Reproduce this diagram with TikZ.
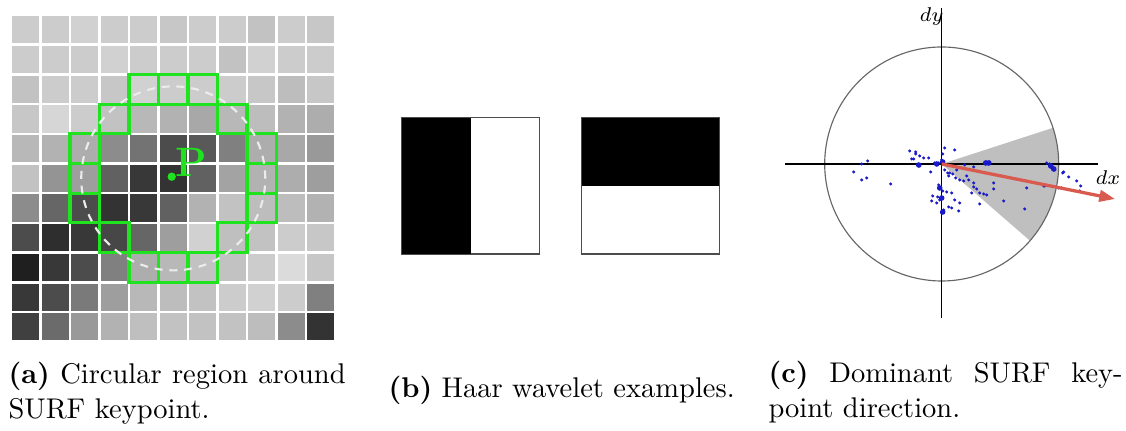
\documentclass[tikz,border=0pt]{standalone}
\usepackage{xcolor}
\usepackage{tikz}
\usetikzlibrary{arrows.meta}
\definecolor{keygreen}{HTML}{1EE31E}
\definecolor{dotblue}{HTML}{1A1AC8}
\definecolor{dirred}{HTML}{D95A4E}
\definecolor{ringgray}{HTML}{ECECEC}

\begin{document}
\begin{tikzpicture}[x=0.351pt, y=0.351pt,
    keycell/.style={draw=keygreen, line width=1.1pt},
    haarbox/.style={draw=black!70, line width=0.5pt},
    surfdot/.style={fill=dotblue},
    axislabel/.style={inner sep=0pt, font=\fontsize{7pt}{8pt}\selectfont},
    subcap/.style={inner sep=0pt, anchor=base west, align=justify}]
  \useasboundingbox (0,0) rectangle (1126,-431);

  % (a) pixel grid
  \foreach \row [count=\r from 0] in {
      {20,20,18,20,20,22,20,20,24,20,22},
      {20,20,20,18,20,20,20,24,18,20,20},
      {24,20,20,22,18,20,20,20,22,26,22},
      {22,16,20,24,28,30,34,28,26,30,32},
      {28,30,32,45,55,70,65,50,32,34,40},
      {24,42,38,62,78,80,62,36,30,32,38},
      {45,60,70,80,78,62,30,24,26,26,30},
      {70,82,78,72,60,38,18,25,24,20,22},
      {88,78,70,50,32,28,24,24,20,14,22},
      {78,70,52,38,28,26,24,20,18,20,50},
      {75,58,40,30,25,24,24,24,26,45,80}} {
    \foreach \v [count=\c from 0] in \row
      \fill[black!\v] (12.25+29.5*\c,-16.25-29.7*\r) rectangle ++(27,-27.2);
  }
  \foreach \r/\c in {2/4,2/5,2/6,3/3,3/7,4/2,4/8,5/2,5/8,6/2,6/8,7/3,7/7,8/4,8/5,8/6}
    \draw[keycell] (11+29.5*\c,-15-29.7*\r) rectangle ++(29.5,-29.7);
  \draw[ringgray, line width=0.75pt, dash pattern=on 2.8pt off 2.4pt] (173.25,-178.4) circle[radius=92];
  \fill[keygreen] (171.7,-176.7) circle[radius=4.2];
  \node[keygreen, inner sep=0pt, font=\Large\bfseries] (plabel) at (191,-162) {P};

  % (b) Haar wavelets
  \draw[haarbox, fill=white] (401.7,-117.7) rectangle (539.3,-254);
  \fill[black] (401.7,-117.7) rectangle (471,-254);
  \draw[haarbox, fill=white] (581.7,-117.7) rectangle (719.3,-254);
  \fill[black] (581.7,-117.7) rectangle (719.3,-186);

  % (c) orientation
  \begin{scope}[shift={(941.7,-164)}]
    \coordinate (orig) at (0,0);
    \coordinate (dirtip) at (173.3,-35);
    \fill[black!25] (orig) -- (18:117) arc[start angle=18, end angle=-41, radius=117] -- cycle;
    \draw[black!60, line width=0.4pt] (orig) circle[radius=117];
    \draw[line width=0.5pt] (-156.7,0) -- (156.3,0);
    \draw[line width=0.5pt] (0,156) -- (0,-154);
    \foreach \px/\py in {-80/0,-74/3,-88/-8,-80/-16,-75/-14,-51/-20,-32/13,-26/12,-26/10,
        -22/8,-30/5,-28/5,-24/-1,-22/-2,-18/6,-13/6,-11/-8,-7/1,-5/0,-3/1,1/3,0/4,3/16,
        1/10,13/14,6/-9,8/-9,11/-10,7/-12,3/-6,14/-14,18/-16,22/-17,23/-1,15/-6,-3/-21,
        -2/-23,1/-27,-4/-33,0/-34,-2/-36,-9/-32,-10/-37,-5/-39,5/-28,10/-29,13/-36,18/-39,
        10/-44,7/-43,17/-47,1/-48,0/-49,2/-46,25/-12,27/-16,32/-3,32/-19,32/-23,35/-25,
        30/-29,38/-29,42/-30,38/-40,45/-31,43/1,45/2,47/0,48/2,52/-19,52/-25,62/-37,
        83/-45,85/-24,102/-22,105/1,108/0,110/-3,112/-4,113/-6,121/-9,122/-8,127/-13,
        135/-17,139/-22,138/-27,120/-24,117/-24,103/-22}
      \fill[surfdot] (\px,\py) circle[radius=1.7];
    \foreach \px/\py in {-23/-1,-5/0,1/2,44/1,47/1,109/-2,112/-5,0/-34,1/-48,-2/-24}
      \fill[surfdot] (\px,\py) circle[radius=2.8];
    \draw[dirred, line width=1.15pt, -{Triangle[length=5.5pt, width=4pt]}] (orig) -- (dirtip);
    \node[axislabel] (dylabel) at (-10,147) {$dy$};
    \node[axislabel] (dxlabel) at (166.3,-14) {$dx$};
  \end{scope}

  % captions
  \node[subcap, text width=118.3pt] (capa) at (8,-384)
    {\textbf{(a)} Circular region around\linebreak SURF keypoint.};
  \node[subcap] (capb) at (388,-398) {\textbf{(b)} Haar wavelet examples.};
  \node[subcap, text width=124.3pt] (capc) at (768,-383)
    {\textbf{(c)} Dominant SURF key-\linebreak point direction.};
\end{tikzpicture}
\end{document}
